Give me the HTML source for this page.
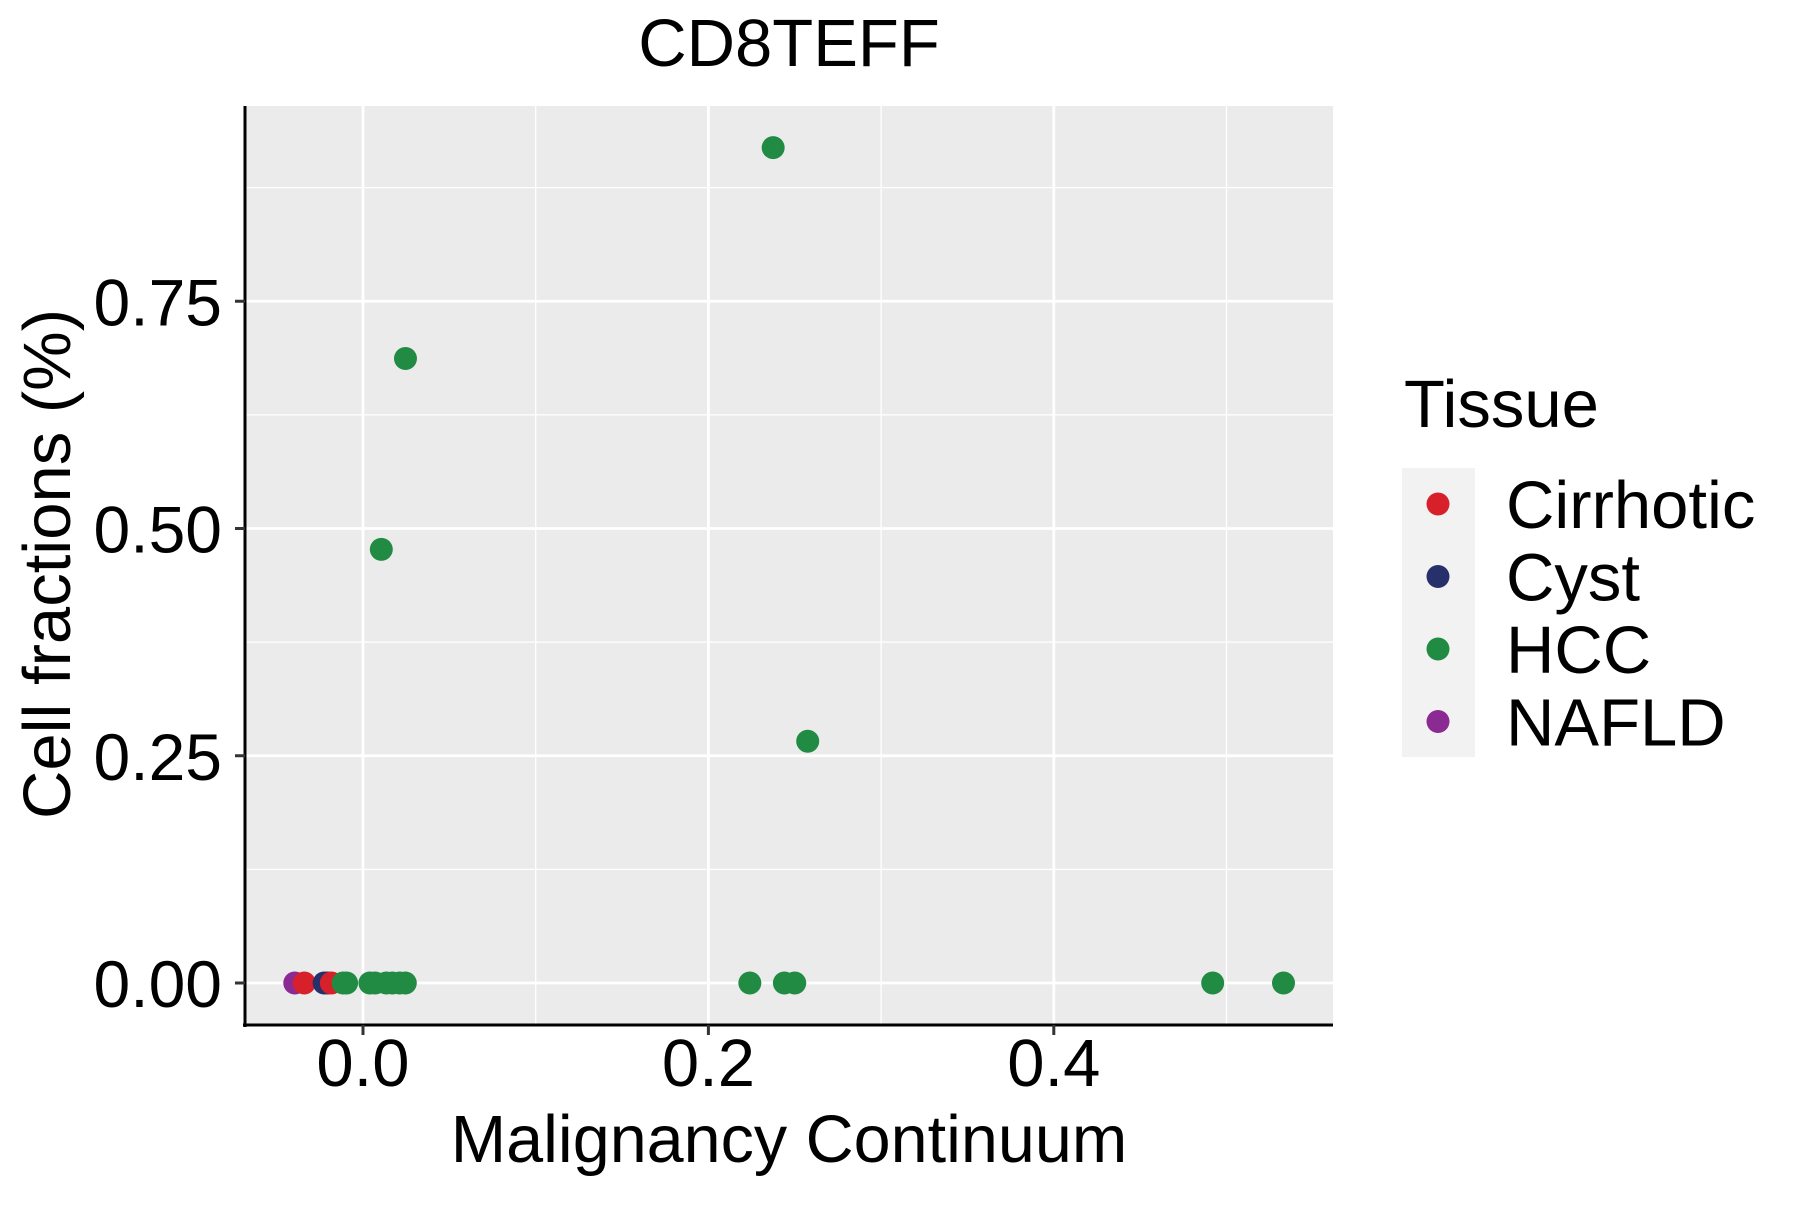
<!DOCTYPE html>
<html><head><meta charset="utf-8"><style>
html,body{margin:0;padding:0;background:#fff;}
svg text{font-family:"Liberation Sans",Arial,sans-serif;fill:#000;}
</style></head><body>
<svg id="chart" width="1800" height="1200" xmlns="http://www.w3.org/2000/svg">
<text x="789" y="66" font-size="67" text-anchor="middle">CD8TEFF</text>
<rect x="245" y="106" width="1088" height="919" fill="#ebebeb"/>
<g id="grid"></g>
<g id="points"></g>
<line x1="245" y1="106" x2="245" y2="1027" stroke="#000" stroke-width="3"/>
<line x1="243" y1="1025" x2="1333" y2="1025" stroke="#000" stroke-width="3"/>
<g id="ticks"></g>
<text x="789" y="1162" font-size="66.5" text-anchor="middle">Malignancy Continuum</text>
<text transform="translate(70,564) rotate(-90)" font-size="67" text-anchor="middle">Cell fractions (%)</text>
<text x="1404" y="427" font-size="67">Tissue</text>
<rect x="1402" y="468" width="73" height="289" fill="#f2f2f2"/>
<g id="legend"></g>
</svg>
<script>
const categories = ["Cirrhotic","Cyst","HCC","NAFLD"];
const colors = ["#d7202a","#27306b","#218b44","#8a2a92"];
const xTicks = [0.0, 0.2, 0.4];
const xTickLabels = ["0.0","0.2","0.4"];
const yTicks = [0, 0.25, 0.5, 0.75];
const yTickLabels = ["0.00","0.25","0.50","0.75"];
const xMinor = [0.1, 0.3, 0.5];
const yMinor = [0.125, 0.375, 0.625, 0.875];
const ptTissue = ["NAFLD","Cirrhotic","Cyst","Cyst","Cirrhotic","HCC","HCC","HCC","HCC","HCC","HCC","HCC","HCC","HCC","HCC","HCC","HCC","HCC","HCC","HCC","HCC","HCC"];
const ptX = [-0.0395,-0.034,-0.0225,-0.0205,-0.0183,-0.0115,-0.0095,0.004,0.007,0.0135,0.017,0.0212,0.0245,0.0106,0.0246,0.2375,0.2575,0.224,0.244,0.250,0.492,0.533];
const ptY = [0,0,0,0,0,0,0,0,0,0,0,0,0,0.477,0.687,0.919,0.266,0,0,0,0,0];

const NS="http://www.w3.org/2000/svg";
const X0=363, XS=1727, Y0=983, YS=909, L=245, R=1333, T=106, B=1025;
const xs=v=>X0+v*XS, ys=v=>Y0-v*YS;
function mk(tag,attrs,parent){const e=document.createElementNS(NS,tag);for(const k in attrs)e.setAttribute(k,attrs[k]);parent.appendChild(e);return e;}
const grid=document.getElementById('grid');
xMinor.forEach(v=>{if(xs(v)<R){const l=mk('line',{x1:xs(v),x2:xs(v),y1:T,y2:B,stroke:'#fff','stroke-width':1.3},grid);

}});
yMinor.forEach(v=>{const l=mk('line',{x1:L,x2:R,y1:ys(v),y2:ys(v),stroke:'#fff','stroke-width':1.3},grid);

});
xTicks.forEach(v=>{const l=mk('line',{x1:xs(v),x2:xs(v),y1:T,y2:B,stroke:'#fff','stroke-width':2.8},grid);

});
yTicks.forEach(v=>{const l=mk('line',{x1:L,x2:R,y1:ys(v),y2:ys(v),stroke:'#fff','stroke-width':2.8},grid);

});
const ticks=document.getElementById('ticks');
xTicks.forEach((v,i)=>{const l=mk('line',{x1:xs(v),x2:xs(v),y1:B,y2:B+10,stroke:'#333','stroke-width':3},ticks);


const t=mk('text',{x:xs(v),y:1086,'font-size':67,'text-anchor':'middle'},ticks);t.textContent=xTickLabels[i];

});
yTicks.forEach((v,i)=>{const l=mk('line',{x1:L-10,x2:L,y1:ys(v),y2:ys(v),stroke:'#333','stroke-width':3},ticks);


const t=mk('text',{x:222,y:ys(v)+24,'font-size':66,'text-anchor':'end'},ticks);t.textContent=yTickLabels[i];

});
const pts=document.getElementById('points');
ptX.forEach((v,i)=>{const c=mk('circle',{cx:xs(v),cy:ys(ptY[i]),r:11.5,fill:colors[categories.indexOf(ptTissue[i])]},pts);

});
const leg=document.getElementById('legend');
categories.forEach((c,i)=>{const y=504+i*72.5;
const k=mk('circle',{cx:1438,cy:y,r:11.5,fill:colors[i]},leg);


const t=mk('text',{x:1506,y:y+24,'font-size':67},leg);t.textContent=c;

});
</script>
</body></html>
